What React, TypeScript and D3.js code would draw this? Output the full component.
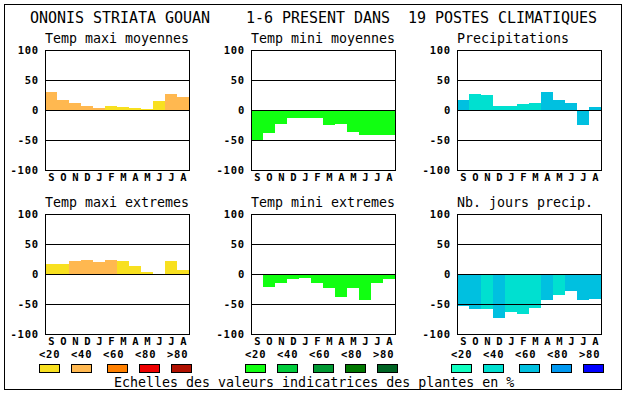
import React from 'react';
import * as d3 from 'd3';

const months = ['S', 'O', 'N', 'D', 'J', 'F', 'M', 'A', 'M', 'J', 'J', 'A'];
const yTicks = [100, 50, 0, -50, -100];
const legendLabels = ['<20', '<40', '<60', '<80', '>80'];

const tmaxMoy = [30, 17, 12, 7, 4, 7, 5, 4, 2, 15, 27, 22];
const tmaxMoyCls = [1, 1, 1, 1, 1, 0, 0, 0, 0, 0, 1, 1];
const tminMoy = [-50, -38, -23, -13, -13, -13, -25, -23, -37, -42, -42, -42];
const tminMoyCls = [0, 0, 0, 0, 0, 0, 0, 0, 0, 0, 0, 0];
const precip = [17, 27, 25, 7, 7, 10, 12, 30, 17, 12, -25, 5];
const precipCls = [2, 1, 1, 1, 1, 1, 1, 2, 2, 2, 2, 2];
const tmaxExt = [17, 17, 22, 24, 20, 24, 22, 14, 4, 0, 21, 7];
const tmaxExtCls = [0, 0, 1, 1, 1, 1, 0, 0, 0, 0, 0, 0];
const tminExt = [0, -21, -15, -8, -6, -15, -24, -38, -24, -43, -15, -8];
const tminExtCls = [0, 0, 0, 0, 0, 0, 0, 0, 0, 0, 0, 0];
const nbJours = [-53, -58, -58, -73, -63, -66, -56, -43, -35, -28, -43, -41];
const nbJoursCls = [2, 2, 1, 2, 1, 1, 1, 2, 1, 2, 2, 2];

const warmPalette = ['#f8e020', '#ffb850', '#ff8000', '#ee0000', '#b01000'];
const greenPalette = ['#11ff11', '#00cc3c', '#009933', '#007800', '#006424'];
const bluePalette = ['#10ffc0', '#00e0d0', '#00c0e0', '#0098f0', '#0000ff'];

const titleText = 'ONONIS STRIATA GOUAN    1-6 PRESENT DANS  19 POSTES CLIMATIQUES';
const footerText = 'Echelles des valeurs indicatrices des plantes en %';

const panels = [
  { title: 'Temp maxi moyennes', values: tmaxMoy, cls: tmaxMoyCls, palette: warmPalette, col: 0, row: 0 },
  { title: 'Temp mini moyennes', values: tminMoy, cls: tminMoyCls, palette: greenPalette, col: 1, row: 0 },
  { title: 'Precipitations', values: precip, cls: precipCls, palette: bluePalette, col: 2, row: 0 },
  { title: 'Temp maxi extremes', values: tmaxExt, cls: tmaxExtCls, palette: warmPalette, col: 0, row: 1 },
  { title: 'Temp mini extremes', values: tminExt, cls: tminExtCls, palette: greenPalette, col: 1, row: 1 },
  { title: 'Nb. jours precip.', values: nbJours, cls: nbJoursCls, palette: bluePalette, col: 2, row: 1 },
];

const W = 630;
const H = 394;
const plotLefts = [45, 251, 457];
const plotTops = [50, 214];
const plotW = 144;
const plotH = 120;
const legendOffsets = [0, 32, 68, 100, 132];

const mono = "'DejaVu Sans Mono', 'Liberation Mono', monospace";

function Panel({ p }: { p: any }) {
  const left = plotLefts[p.col];
  const top = plotTops[p.row];
  const x = d3.scaleBand<number>().domain(d3.range(12)).range([left, left + plotW]).padding(0);
  const y = d3.scaleLinear().domain([-100, 100]).range([top + plotH, top]);
  const y0 = y(0);
  return (
    <g>
      <text x={left} y={top - 7} fontFamily={mono} fontSize={13.3} fill="#000">
        {p.title}
      </text>
      {p.values.map((v: number, i: number) => (
        <rect
          key={i}
          x={x(i)}
          width={x.bandwidth()}
          y={Math.min(y(v), y0)}
          height={Math.abs(y(v) - y0)}
          fill={p.palette[p.cls[i]]}
          shapeRendering="crispEdges"
        />
      ))}
      {[50, 0, -50].map((t) => (
        <line
          key={t}
          x1={left}
          x2={left + plotW}
          y1={Math.round(y(t)) + 0.5}
          y2={Math.round(y(t)) + 0.5}
          stroke="#000"
          strokeWidth={1}
          shapeRendering="crispEdges"
        />
      ))}
      <rect
        x={left + 0.5}
        y={top + 0.5}
        width={plotW}
        height={plotH}
        fill="none"
        stroke="#000"
        strokeWidth={1}
        shapeRendering="crispEdges"
      />
      {yTicks.map((t) => (
        <text
          key={t}
          x={left - 6}
          y={y(t) + 3.8}
          textAnchor="end"
          fontFamily={mono}
          fontWeight="bold"
          fontSize={10.5}
          letterSpacing={0.8}
          fill="#000"
        >
          {t}
        </text>
      ))}
      {months.map((m, i) => (
        <text
          key={i}
          x={(x(i) as number) + x.bandwidth() / 2 + 0.5}
          y={top + plotH + 11}
          textAnchor="middle"
          fontFamily={mono}
          fontWeight="bold"
          fontSize={10.5}
          fill="#000"
        >
          {m}
        </text>
      ))}
    </g>
  );
}

function Legend({ col, palette }: { col: number; palette: string[] }) {
  const left = plotLefts[col] - 6;
  return (
    <g>
      {legendLabels.map((l, k) => (
        <text
          key={l}
          x={left + 32 * k}
          y={358}
          fontFamily={mono}
          fontWeight="bold"
          fontSize={10.5}
          letterSpacing={0.8}
          fill="#000"
        >
          {l}
        </text>
      ))}
      {palette.map((c, k) => (
        <rect
          key={k}
          x={left + legendOffsets[k] + 0.5}
          y={364.5}
          width={20}
          height={8}
          fill={c}
          stroke="#000"
          strokeWidth={1}
          shapeRendering="crispEdges"
        />
      ))}
    </g>
  );
}

export default function App() {
  return (
    <svg
      width={W}
      height={H}
      style={{ position: 'absolute', left: 0, top: 0, background: '#fff' }}
    >
      <rect x={0} y={0} width={W} height={H} fill="#fff" />
      <rect x={4.5} y={4.5} width={617} height={385} fill="none" stroke="#000" strokeWidth={1} shapeRendering="crispEdges" />
      <text x={30} y={23} fontFamily={mono} fontSize={15} textLength={567} lengthAdjust="spacing" fill="#000" style={{ whiteSpace: 'pre' }}>
        {titleText}
      </text>
      {panels.map((p, i) => (
        <Panel key={i} p={p} />
      ))}
      <Legend col={0} palette={warmPalette} />
      <Legend col={1} palette={greenPalette} />
      <Legend col={2} palette={bluePalette} />
      <text x={114} y={387} fontFamily={mono} fontSize={13.3} fill="#000" style={{ whiteSpace: 'pre' }}>
        {footerText}
      </text>
    </svg>
  );
}
